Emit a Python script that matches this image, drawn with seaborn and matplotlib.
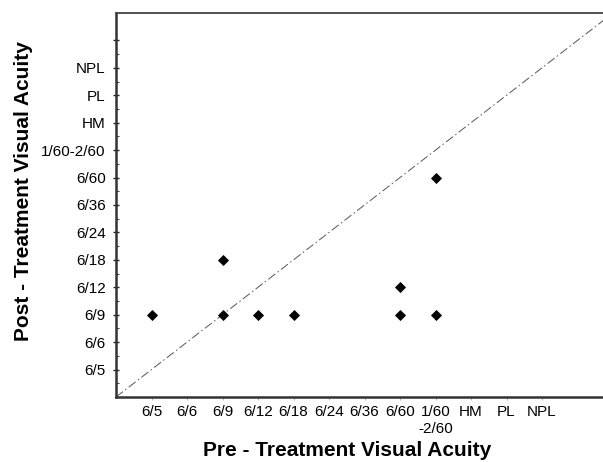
import numpy as np
import pandas as pd
import matplotlib
matplotlib.use("Agg")
import matplotlib.pyplot as plt
import seaborn as sns

# skala ketajaman penglihatan (urutan kategori)
acuity_x = ["6/5", "6/6", "6/9", "6/12", "6/18", "6/24", "6/36", "6/60",
            "1/60\n-2/60", "HM", "PL", "NPL"]
acuity_y = ["6/5", "6/6", "6/9", "6/12", "6/18", "6/24", "6/36", "6/60",
            "1/60-2/60", "HM", "PL", "NPL"]

# data pasien: sebelum dan sesudah terapi
pre_va = ["6/5", "6/9", "6/9", "6/12", "6/18", "6/60", "6/60", "1/60-2/60", "1/60-2/60"]
post_va = ["6/9", "6/18", "6/9", "6/9", "6/9", "6/12", "6/9", "6/60", "6/9"]

rank = {lab: i + 1 for i, lab in enumerate(acuity_y)}
df = pd.DataFrame({
    "pre": [rank[v] for v in pre_va],
    "post": [rank[v] for v in post_va],
})

sns.set_style("white")
plt.rcParams['font.family'] = ['Liberation Sans', 'DejaVu Sans']
plt.rcParams['text.color'] = 'black'
plt.rcParams['axes.labelcolor'] = 'black'
plt.rcParams['xtick.labelcolor'] = 'black'
plt.rcParams['ytick.labelcolor'] = 'black'

fig = plt.figure(figsize=(6.03, 4.62), dpi=100)
ax = fig.add_axes([116 / 603, 1 - 397 / 462, 497 / 603, 384 / 462])

# garis identitas (tidak ada perubahan)
ax.plot([0, 14], [0, 14], color="#555555", lw=0.7,
        linestyle=(0, (9, 3, 1.5, 3)), zorder=1)

sns.scatterplot(data=df, x="pre", y="post", marker="D", s=32,
                color="black", linewidth=0, ax=ax, zorder=3)

ax.set_xlim(0, 14)
ax.set_ylim(0, 14)

ticks = np.arange(1, 13)
ax.set_xticks(ticks)
ax.set_xticklabels(acuity_x, fontsize=11)
ax.set_yticks(list(ticks) + [13])
ax.set_yticklabels(acuity_y + [""], fontsize=11)
ax.set_yticks(np.arange(0.5, 13.5, 1), minor=True)

ax.tick_params(axis="y", which="major", direction="inout", length=5,
               width=1, color="#222222", pad=5, left=True)
ax.tick_params(axis="y", which="minor", direction="in", length=2,
               width=0.8, color="#444444", left=True)
ax.tick_params(axis="x", which="major", direction="out", length=2,
               width=0.6, color="#aaaaaa", pad=4, bottom=True)

for side in ["left", "bottom"]:
    ax.spines[side].set_color("#333333")
    ax.spines[side].set_linewidth(1.8)
ax.spines["top"].set_color("#444444")
ax.spines["top"].set_linewidth(1.3)
ax.spines["right"].set_visible(False)

ax.set_xlabel("Pre - Treatment Visual Acuity", fontsize=15, fontweight="bold")
ax.set_ylabel("Post - Treatment Visual Acuity", fontsize=15, fontweight="bold")
ax.xaxis.set_label_coords(0.466, -0.115)
ax.yaxis.set_label_coords(-0.168, 0.535)

fig.savefig("out.png", dpi=100)
